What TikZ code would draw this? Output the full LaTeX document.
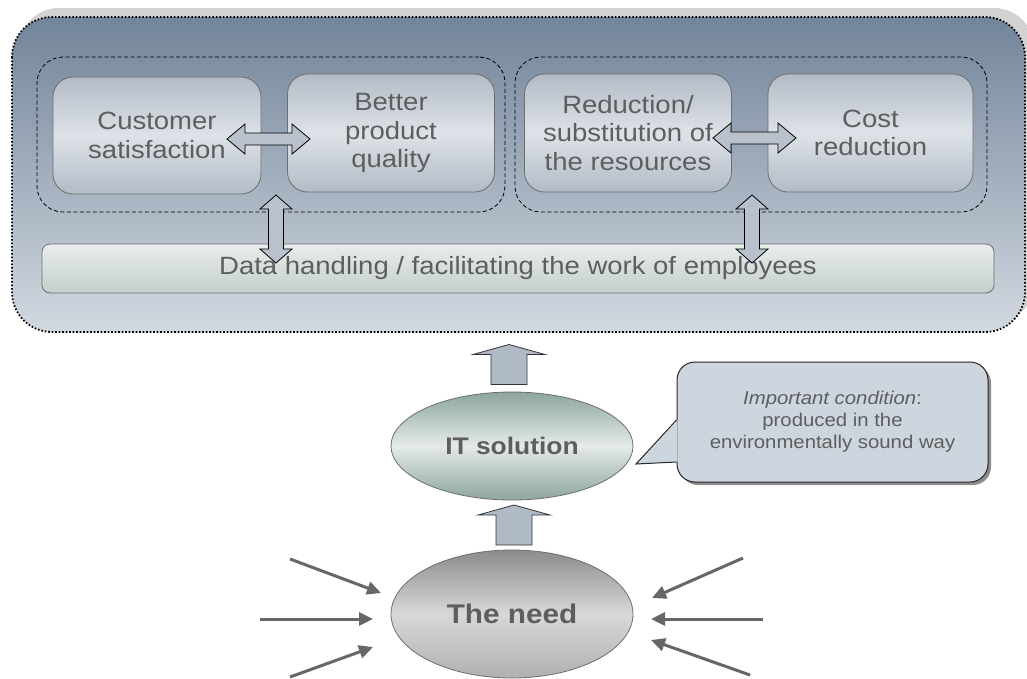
\documentclass[tikz,border=0pt]{standalone}
\usepackage{fontspec}
\setmainfont[FakeStretch=1.1]{Liberation Sans}
\usetikzlibrary{shapes.geometric,arrows.meta,calc}
\definecolor{txt}{HTML}{5E5E5E}
\definecolor{outtop}{HTML}{72849A}
\definecolor{outbot}{HTML}{D3D9E1}
\definecolor{boxedge}{HTML}{6E6E6E}
\definecolor{boxend}{HTML}{B2BBC6}
\definecolor{boxmid}{HTML}{DEE2E8}
\definecolor{bartop}{HTML}{E9EDEB}
\definecolor{barbot}{HTML}{C3CFCA}
\definecolor{arrfill}{HTML}{B8C1CC}
\definecolor{blkfill}{HTML}{B0BAC6}
\definecolor{itend}{HTML}{8DA69E}
\definecolor{itmid}{HTML}{E4EAE8}
\definecolor{needtop}{HTML}{8C8C8C}
\definecolor{needmid}{HTML}{D8D8D8}
\definecolor{needbot}{HTML}{B0B0B0}
\definecolor{callfill}{HTML}{CDD5DE}
\definecolor{sidegray}{HTML}{676767}
\definecolor{shadowgray}{HTML}{D2D2D2}
\tikzset{
  ibox/.style={rounded corners=20pt, draw=boxedge, line width=0.8pt,
    top color=boxend, bottom color=boxend, middle color=boxmid,
    minimum width=207pt, minimum height=118pt, inner sep=0pt,
    text=txt, align=center, font=\fontsize{25}{28.5}\selectfont},
  grp/.style={draw=black, line width=0.8pt, dash pattern=on 4pt off 2.5pt,
    rounded corners=26pt, minimum height=155pt, inner sep=0pt},
  dblarrow/.style={fill=arrfill, draw=black, line width=0.8pt, line join=miter},
  blkarrow/.style={fill=blkfill, draw=black!80, line width=0.8pt, line join=miter},
  sidearrow/.style={draw=sidegray, line width=3pt,
    -{Triangle[length=14pt,width=13pt]}},
  hdbl/.pic={\draw[dblarrow] (-41.5,0) -- (-23.5,-15) -- (-23.5,-6) -- (23.5,-6)
      -- (23.5,-15) -- (41.5,0) -- (23.5,15) -- (23.5,6) -- (-23.5,6)
      -- (-23.5,15) -- cycle;},
  vdbl/.pic={\draw[dblarrow] (0,-34) -- (16,-20) -- (7.5,-20) -- (7.5,20)
      -- (16,20) -- (0,34) -- (-16,20) -- (-7.5,20) -- (-7.5,-20)
      -- (-16,-20) -- cycle;},
  upblk/.pic={\draw[blkarrow] (0,-20) -- (36,-10) -- (18,-10) -- (18,20)
      -- (-18,20) -- (-18,-10) -- (-36,-10) -- cycle;}
}
\begin{document}
\begin{tikzpicture}[x=1pt,y=-1pt]
\useasboundingbox (0,0) rectangle (1027,678);
% outer container with shadow
\fill[shadowgray, rounded corners=40pt] (19,8) rectangle (1034,323);
\path[rounded corners=40pt, top color=outtop, bottom color=outbot,
  draw=black, line width=1.8pt, dash pattern=on 1.6pt off 1.9pt]
  (12,17) rectangle (1025,332);
% dashed groups
\node[grp, minimum width=468pt] (g1) at (271,134.5) {};
\node[grp, minimum width=472pt] (g2) at (751,134.5) {};
% inner boxes
\node[ibox, minimum width=208pt, minimum height=117pt] (b1) at (157,135.5) {Customer\\satisfaction};
\node[ibox] (b2) at (391,133) {Better\\product\\quality};
\node[ibox] (b3) at (628,133) {Reduction/\\substitution of\\the resources};
\node[ibox, minimum width=205pt] (b4) at (870.5,133) {Cost\\reduction};
% data bar
\node[rounded corners=8pt, draw=boxedge, line width=0.8pt,
  top color=bartop, bottom color=barbot, minimum width=952pt,
  minimum height=49pt, inner sep=0pt, text=txt,
  font=\fontsize{25}{28}\selectfont] (data) at (518,268.5)
  {Data handling / facilitating the work of employees};
% double arrows
\coordinate (h1) at (268.5,139);
\coordinate (h2) at (754.5,138);
\coordinate (v1) at (276,229);
\coordinate (v2) at (752,229);
\pic at (h1) {hdbl};
\pic at (h2) {hdbl};
\pic at (v1) {vdbl};
\pic at (v2) {vdbl};
% ellipses
\node[ellipse, minimum width=242pt, minimum height=108pt, inner sep=0pt,
  draw=boxedge, line width=0.8pt, top color=itend, bottom color=itend,
  middle color=itmid, text=txt, font=\bfseries\fontsize{24}{28}\selectfont]
  (it) at (512,446) {IT solution};
\node[ellipse, minimum width=242pt, minimum height=128pt, inner sep=0pt,
  draw=boxedge, line width=0.8pt, top color=needtop, bottom color=needbot,
  middle color=needmid, text=txt, font=\bfseries\fontsize{27}{30}\selectfont]
  (need) at (512,614) {The need};
% block up arrows
\coordinate (u1) at (509,364.5);
\coordinate (u2) at (514,525);
\pic at (u1) {upblk};
\pic at (u2) {upblk};
% callout
\fill[black!45, rounded corners=18pt] (680,365) rectangle (991,485);
\node[rounded corners=18pt, draw=black!85, line width=1pt, fill=callfill,
  minimum width=311pt, minimum height=120pt, inner sep=0pt, text=txt,
  align=center, font=\fontsize{18.5}{22}\selectfont] (call) at (832.5,422)
  {\textit{Important condition}:\\produced in the\\environmentally sound way};
\coordinate (tip) at (636,464);
\coordinate (pa) at ($(call.west)+(0,-2)$);
\coordinate (pb) at ($(call.west)+(0,40)$);
\fill[callfill] ($(pa)+(1.2,0)$) -- (tip) -- ($(pb)+(1.2,0)$) -- cycle;
\draw[black!85, line width=1pt, line join=miter] (pa) -- (tip) -- (pb);
% side arrows
\coordinate (l1s) at (290,559); \coordinate (l1e) at (381,593);
\coordinate (l2s) at (260,619); \coordinate (l2e) at (373,619);
\coordinate (l3s) at (290,677); \coordinate (l3e) at (373,647);
\coordinate (r1s) at (743,558); \coordinate (r1e) at (652,598);
\coordinate (r2s) at (763,619); \coordinate (r2e) at (651,619);
\coordinate (r3s) at (750,675); \coordinate (r3e) at (651,640);
\draw[sidearrow] (l1s) -- (l1e);
\draw[sidearrow] (l2s) -- (l2e);
\draw[sidearrow] (l3s) -- (l3e);
\draw[sidearrow] (r1s) -- (r1e);
\draw[sidearrow] (r2s) -- (r2e);
\draw[sidearrow] (r3s) -- (r3e);
\end{tikzpicture}
\end{document}
